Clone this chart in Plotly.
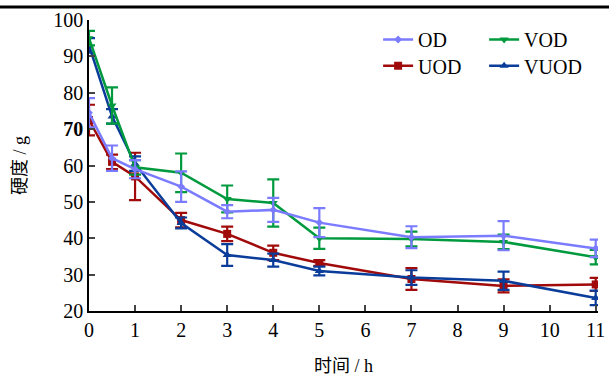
import plotly.graph_objects as go

time_h = [0, 0.5, 1, 2, 3, 4, 5, 7, 9, 11]

od = [74.5, 62.0, 59.0, 54.2, 47.3, 47.8, 44.3, 40.3, 40.7, 37.2]
od_err = [4.0, 3.5, 2.5, 4.2, 1.8, 3.3, 4.0, 3.0, 4.0, 2.4]

vod = [95.0, 76.5, 59.5, 58.0, 50.8, 49.7, 40.0, 39.8, 39.0, 34.8]
vod_err = [2.0, 5.0, 2.0, 5.3, 3.7, 6.5, 2.9, 2.0, 2.0, 2.0]

uod = [72.5, 61.0, 57.0, 45.0, 41.2, 36.0, 33.2, 28.8, 26.9, 27.3]
uod_err = [4.2, 2.0, 6.5, 2.0, 2.0, 2.0, 0.8, 3.0, 1.8, 1.8]

vuod = [93.0, 73.5, 60.5, 44.2, 35.4, 34.0, 31.0, 29.2, 28.3, 23.6]
vuod_err = [2.0, 2.0, 2.0, 1.5, 3.0, 1.8, 1.2, 2.0, 2.5, 2.0]

y_ticks = [20, 30, 40, 50, 60, 70, 80, 90, 100]
y_tick_text = ["20", "30", "40", "50", "60", "<b>70</b>", "80", "90", "100"]
x_ticks = [0, 1, 2, 3, 4, 5, 6, 7, 8, 9, 10, 11]

series = [
    ("OD", od, od_err, "#7B7BFF", "diamond", 6, "legend"),
    ("VOD", vod, vod_err, "#009A3E", "triangle-down", 8, "legend"),
    ("UOD", uod, uod_err, "#A00A0A", "square", 8, "legend2"),
    ("VUOD", vuod, vuod_err, "#0A3C9A", "triangle-up", 8, "legend2"),
]

fig = go.Figure()
# draw order: put OD on top
for name, ys, err, color, sym, msize, leg in [series[2], series[3], series[1], series[0]]:
    fig.add_trace(go.Scatter(
        x=time_h, y=ys, name=name, mode="lines+markers",
        line=dict(color=color, width=2.5),
        marker=dict(symbol=sym, size=msize, color=color),
        error_y=dict(type="data", array=err, visible=True, color=color,
                     thickness=2.2, width=6),
        legend=leg,
    ))

serif = "Liberation Serif, Times New Roman, serif"
cjk = "Liberation Serif, Noto Sans CJK SC, serif"

fig.update_layout(
    width=609, height=376,
    margin=dict(l=89, r=11, t=20, b=65, autoexpand=False),
    paper_bgcolor="white", plot_bgcolor="white",
    font=dict(family=serif, size=20, color="black"),
    showlegend=True,
    legend=dict(orientation="h", x=0.568, y=1.0, xanchor="left", yanchor="top",
                entrywidth=61, entrywidthmode="pixels", itemwidth=30,
                traceorder="reversed",
                font=dict(family=serif, size=20), bgcolor="rgba(0,0,0,0)",
                tracegroupgap=0),
    legend2=dict(orientation="h", x=0.568, y=0.91, xanchor="left", yanchor="top",
                 entrywidth=61, entrywidthmode="pixels", itemwidth=30,
                 font=dict(family=serif, size=20), bgcolor="rgba(0,0,0,0)",
                 tracegroupgap=0),
    xaxis=dict(range=[0, 11.05], tickvals=x_ticks, ticks="inside", ticklen=6,
               tickwidth=1.5, showline=True, linecolor="black", linewidth=1.5,
               showgrid=False, zeroline=False,
               tickfont=dict(family=serif, size=20),
               title=dict(text="时间 / h", font=dict(family=cjk, size=18), standoff=22)),
    yaxis=dict(range=[20, 100], tickvals=y_ticks, ticktext=y_tick_text,
               ticks="inside", ticklen=6, tickwidth=1.5,
               showline=True, linecolor="black", linewidth=1.5,
               showgrid=False, zeroline=False,
               tickfont=dict(family=serif, size=20),
               title=dict(text="硬度 / g", font=dict(family=cjk, size=18), standoff=22)),
    shapes=[dict(type="line", xref="paper", yref="paper",
                 x0=-0.3, x1=1.1, y0=1.045, y1=1.045,
                 line=dict(color="black", width=3))],
)

fig.write_html("out.html",
               config={"displayModeBar": False},
               post_script="document.body.style.margin='0';document.body.style.overflow='hidden';")
